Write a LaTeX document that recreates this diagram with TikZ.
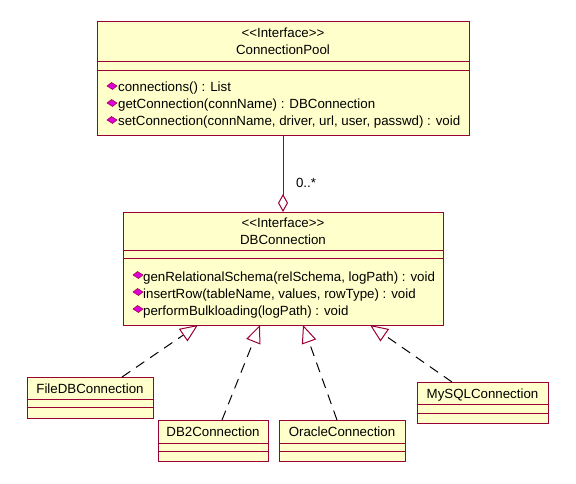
\documentclass[tikz,border=0pt]{standalone}
\usepackage{fontspec}
\setmainfont[Ligatures=NoCommon]{Liberation Sans}
\usetikzlibrary{arrows.meta,calc}
\definecolor{umlred}{HTML}{990033}
\definecolor{umlfill}{HTML}{FFFFCC}
\definecolor{icon}{HTML}{DD00DD}
\newcommand{\stereo}{\textless\kern0pt\textless Interface\textgreater\kern0pt\textgreater}
\tikzset{
  x=1pt, y=-1pt,
  umlbox/.style={draw=umlred, fill=umlfill, line width=1pt, anchor=north west, inner sep=0pt, outer sep=0pt},
  sep/.style={draw=umlred, line width=1pt},
  txt/.style={font=\fontsize{13.3}{15}\selectfont, inner sep=0pt, anchor=base},
  mtxt/.style={font=\fontsize{13.3}{15}\selectfont, inner sep=0pt, anchor=base west},
  realize/.style={draw=black, line width=1pt, dash pattern=on 10pt off 7pt,
     -{Triangle[open, length=18pt, width=15pt, color=umlred, line width=1pt]}},
  aggr/.style={draw=umlred, line width=1pt, {Diamond[open, length=18pt, width=10pt]}-},
  iconstyle/.style={fill=icon, draw=umlred, line width=0.5pt}
}
\begin{document}
\begin{tikzpicture}
\useasboundingbox (0,0) rectangle (576,484);
% ConnectionPool
\node[umlbox, minimum width=372pt, minimum height=114pt] (cp) at (97,22) {};
\draw[sep] (97,62) -- (469,62);
\draw[sep] (97,71) -- (469,71);
\node[txt] (cpst) at (283,38) {\stereo};
\node[txt] (cpname) at (283,55) {ConnectionPool};
\node[mtxt] (cpm1) at (118,92) {connections() : List};
\node[mtxt] (cpm2) at (118,109) {getConnection(connName) : DBConnection};
\node[mtxt] (cpm3) at (118,126) {setConnection(connName, driver, url, user, passwd) : void};
\foreach \yy in {86,103,120} { \path[iconstyle] (107,\yy) -- (111.5,\yy-3.5) -- (117,\yy) -- (112.5,\yy+3.5) -- cycle; }
% DBConnection
\node[umlbox, minimum width=320pt, minimum height=113pt] (db) at (123,212) {};
\draw[sep] (123,250) -- (443,250);
\draw[sep] (123,258) -- (443,258);
\node[txt] (dbst) at (283,227) {\stereo};
\node[txt] (dbname) at (283,244) {DBConnection};
\node[mtxt] (dbm1) at (143,281) {genRelationalSchema(relSchema, logPath) : void};
\node[mtxt] (dbm2) at (143,298) {insertRow(tableName, values, rowType) : void};
\node[mtxt] (dbm3) at (143,315) {performBulkloading(logPath) : void};
\foreach \yy in {275,292,309} { \path[iconstyle] (133,\yy) -- (137.5,\yy-3.5) -- (143,\yy) -- (138.5,\yy+3.5) -- cycle; }
% aggregation
\draw[aggr] (db.north) -- (cp.south);
\node[txt] (mult) at (306,188) {0..*};
% FileDBConnection
\node[umlbox, minimum width=126pt, minimum height=41pt] (fdb) at (27,377) {};
\draw[sep] (27,399) -- (153,399);
\draw[sep] (27,407) -- (153,407);
\node[txt] (fdbn) at (90,393) {FileDBConnection};
% DB2Connection
\node[umlbox, minimum width=110pt, minimum height=41pt] (db2) at (158,420) {};
\draw[sep] (158,443) -- (268,443);
\draw[sep] (158,451) -- (268,451);
\node[txt] (db2n) at (213,436) {DB2Connection};
% OracleConnection
\node[umlbox, minimum width=126pt, minimum height=41pt] (ora) at (279,420) {};
\draw[sep] (279,443) -- (405,443);
\draw[sep] (279,451) -- (405,451);
\node[txt] (oran) at (342,436) {OracleConnection};
% MySQLConnection
\node[umlbox, minimum width=131pt, minimum height=41pt] (my) at (417,382) {};
\draw[sep] (417,404) -- (548,404);
\draw[sep] (417,413) -- (548,413);
\node[txt] (myn) at (482.5,398) {MySQLConnection};
% realization arrows
\coordinate (fdbt) at (122,377);
\coordinate (db2t) at (222,420);
\coordinate (orat) at (337,420);
\coordinate (myt) at (452,382);
\coordinate (dbh1) at (198,325);
\coordinate (dbh2) at (260,325);
\coordinate (dbh3) at (303,325);
\coordinate (dbh4) at (370,325);
\draw[realize] (fdbt) -- (dbh1);
\draw[realize] (db2t) -- (dbh2);
\draw[realize] (orat) -- (dbh3);
\draw[realize] (myt) -- (dbh4);
\end{tikzpicture}
\end{document}
